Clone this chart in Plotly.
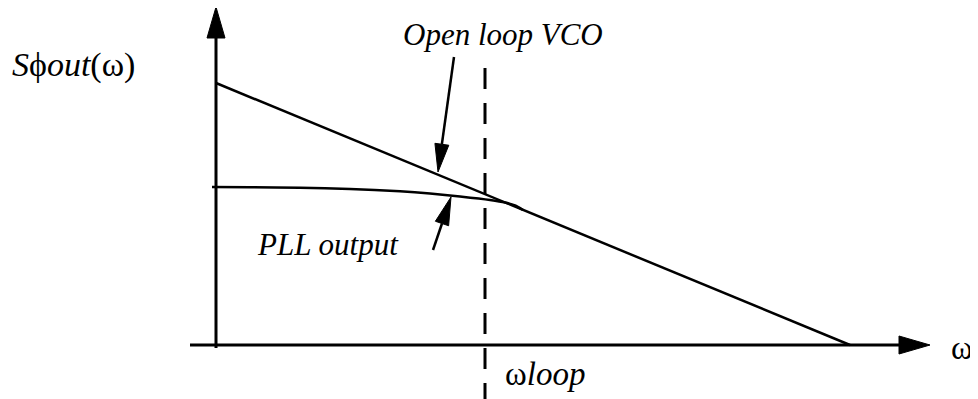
import numpy as np
import plotly.graph_objects as go

# Diagram coordinates: origin at the axes intersection, 1 unit ~ 1 px
open_loop_x = [0, 634]
open_loop_y = [262, 0]

pll_x = [-4, 34, 84, 134, 184, 214, 244, 274, 289, 299, 307]
pll_y = [158, 157.8, 157.2, 156, 153.7, 151.5, 148.5, 145, 142.5, 139.5, 135]

loop_freq = 269          # omega_loop marker
loop_line_top = 277

axis_y_extent = [-3, 338]   # vertical axis bottom / arrow tip
axis_x_extent = [-26, 714]  # horizontal axis left / arrow tip

# pointer arrows: (tail, tip)
vco_arrow = [(238, 288), (222, 173)]
pll_arrow = [(217, 95), (235, 148)]

labels = [
    dict(text="<i>S</i>ϕ<i>out</i>(ω)", x=-206, y=280, xanchor="left", size=34),
    dict(text="<i>Open loop VCO</i>", x=287, y=311, xanchor="center", size=31),
    dict(text="<i>PLL output</i>", x=39, y=101, xanchor="left", size=31),
    dict(text="ω<i>loop</i>", x=287, y=-29, xanchor="left", size=33),
    dict(text="ω", x=733, y=-3, xanchor="left", size=33),
]

BLACK = "black"
fig = go.Figure()

def line(xs, ys, width=2.5, dash=None):
    fig.add_trace(go.Scatter(x=xs, y=ys, mode="lines",
                             line=dict(color=BLACK, width=width, dash=dash, shape="spline", smoothing=0.6),
                             hoverinfo="skip", showlegend=False))

def head(tail, tip, length, half):
    t = np.array(tail, float); p = np.array(tip, float)
    d = (p - t) / np.linalg.norm(p - t)
    n = np.array([-d[1], d[0]])
    b = p - d * length
    pts = [p, b + n * half, b - n * half, p]
    fig.add_trace(go.Scatter(x=[q[0] for q in pts], y=[q[1] for q in pts],
                             mode="lines", fill="toself", fillcolor=BLACK,
                             line=dict(color=BLACK, width=1),
                             hoverinfo="skip", showlegend=False))
    return b

# axes
b = head((0, axis_y_extent[0]), (0, axis_y_extent[1]), 31, 9)
line([0, 0], [axis_y_extent[0], b[1] + 2], width=3)
b = head((axis_x_extent[0], 0), (axis_x_extent[1], 0), 31, 9)
line([axis_x_extent[0], b[0] + 2], [0, 0], width=3)

# curves
line(open_loop_x, open_loop_y, width=2.5)
line(pll_x, pll_y, width=2.5)

# omega_loop dashed line
line([loop_freq, loop_freq], [loop_line_top, -70], width=3, dash="21px,14px")

# pointer arrows
for tail, tip in (vco_arrow, pll_arrow):
    b = head(tail, tip, 28, 7)
    line([tail[0], b[0]], [tail[1], b[1]], width=2.5)

for lab in labels:
    fig.add_annotation(text=lab["text"], x=lab["x"], y=lab["y"], xanchor=lab["xanchor"],
                       yanchor="middle", showarrow=False,
                       font=dict(family="Liberation Serif", size=lab["size"], color=BLACK))

# page body adds an 8px offset; ranges compensate so the origin lands at (216, 345)
fig.update_layout(width=978, height=399, margin=dict(l=0, r=0, t=0, b=0),
                  paper_bgcolor="white", plot_bgcolor="white",
                  xaxis=dict(range=[-208, 770], visible=False, fixedrange=True),
                  yaxis=dict(range=[-62, 337], visible=False, fixedrange=True))
fig.write_html("out.html")
